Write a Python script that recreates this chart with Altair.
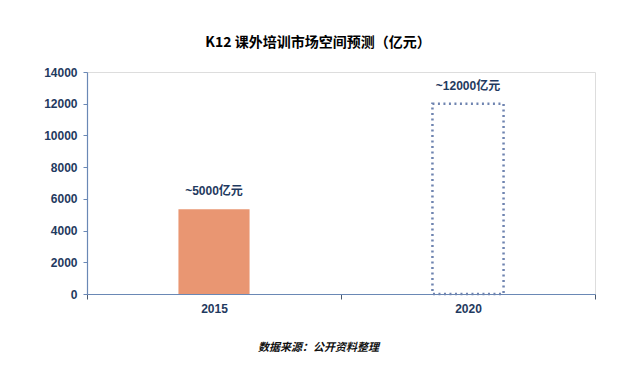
import altair as alt
import pandas as pd

years = ["2015", "2020"]
values = [5350, 12000]
labels = ["~5000亿元", "~12000亿元"]
kinds = ["actual", "forecast"]

df = pd.DataFrame({"year": years, "value": values, "label": labels, "kind": kinds})

LABEL_FONT = "Liberation Sans Narrow, Liberation Sans, Noto Sans CJK SC"
CJK = "Noto Sans CJK SC"
AXIS_COLOR = "#6a88b5"
NAVY = "#1f3a60"

x = alt.X(
    "year:N",
    title="数据来源：公开资料整理",
    scale=alt.Scale(paddingInner=0, paddingOuter=0),
    axis=alt.Axis(
        labelAngle=0, tickBand="extent", tickSize=5, tickColor="#4a5a70",
        domainColor=AXIS_COLOR, domainWidth=1.2,
        labelFont=LABEL_FONT, labelFontSize=12, labelFontWeight="bold",
        labelColor=NAVY, labelPadding=4,
        titleFont=CJK, titleFontSize=11, titleFontStyle="italic", titleFontWeight="bold",
        titleColor="#111111", titleX=231, titleY=53, titleAlign="center",
        titleBaseline="middle", titleAnchor="start",
    ),
)
y = alt.Y(
    "value:Q",
    scale=alt.Scale(domain=[0, 14000], nice=False),
    axis=alt.Axis(
        values=list(range(0, 14001, 2000)), format="d", title=None, grid=False,
        tickSize=4, tickColor=AXIS_COLOR, domainColor=AXIS_COLOR, domainWidth=1.2,
        labelFont=LABEL_FONT, labelFontSize=12, labelFontWeight="bold",
        labelColor=NAVY, labelPadding=6,
    ),
)

base = alt.Chart(df)

solid = base.transform_filter(alt.datum.kind == "actual").mark_bar(
    width=alt.RelativeBandSize(0.28), color="#e99672"
).encode(x=x, y=y)

dotted = base.transform_filter(alt.datum.kind == "forecast").mark_bar(
    width=alt.RelativeBandSize(0.28), fill="white", fillOpacity=0,
    stroke="#6f84b0", strokeWidth=2.5, strokeDash=[2, 3.5]
).encode(x=x, y=y)

text = base.mark_text(
    dy=-18, font=LABEL_FONT, fontSize=12, fontWeight="bold", color=NAVY
).encode(x=x, y=y, text="label:N")

chart = alt.layer(solid, dotted, text).properties(
    width=508,
    height=222,
    autosize=alt.AutoSizeParams(type="none"),
    padding={"left": 79, "top": 64, "right": 24, "bottom": 60},
    title=alt.TitleParams(
        "K12 课外培训市场空间预测（亿元）", font=CJK, fontSize=14, fontWeight="bold",
        color="#000000", anchor="middle", dx=-23, offset=16,
    ),
).configure_view(stroke=None).configure(background="white")

chart.save("out.html", embed_options={"renderer": "svg", "actions": False})
